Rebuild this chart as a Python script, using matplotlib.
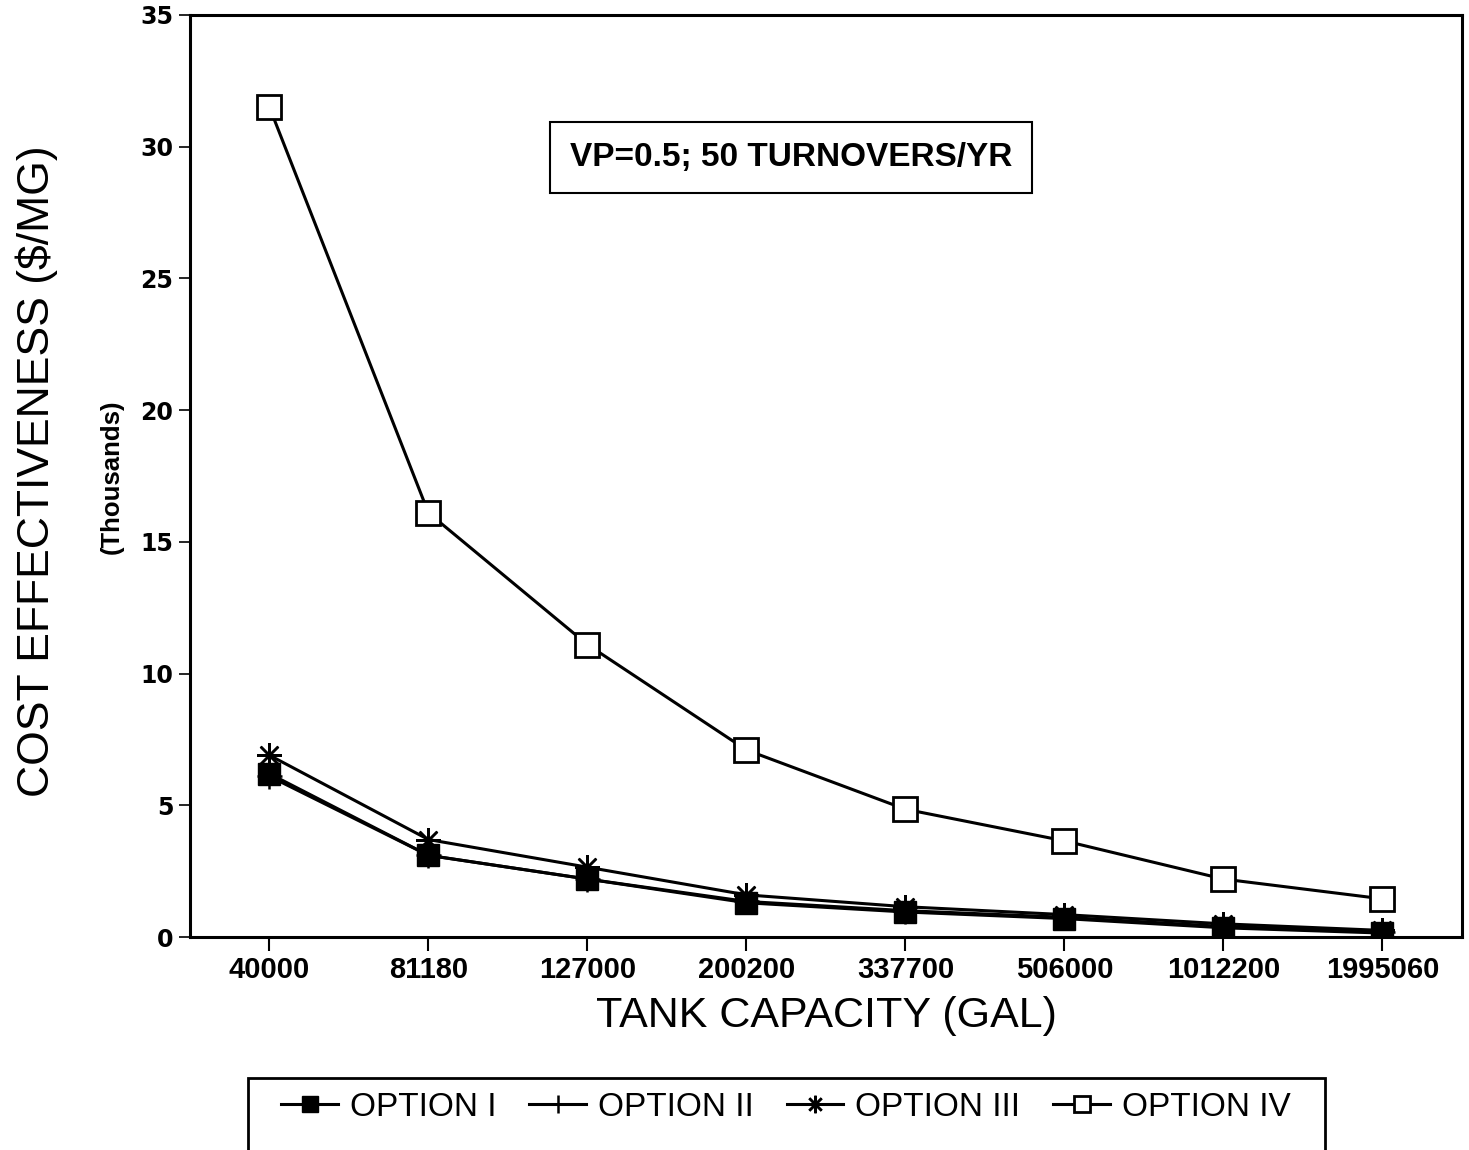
import matplotlib
matplotlib.use("Agg")
import matplotlib.pyplot as plt
from matplotlib import font_manager
from matplotlib.patches import Rectangle

names = {f.name for f in font_manager.fontManager.ttflist}
narrow = 'Liberation Sans Narrow' if 'Liberation Sans Narrow' in names else 'Liberation Sans'
plt.rcParams['font.family'] = [narrow, 'DejaVu Sans']

capacity = ['40000', '81180', '127000', '200200', '337700', '506000', '1012200', '1995060']
option_1 = [6.2, 3.1, 2.2, 1.3, 0.95, 0.7, 0.35, 0.15]
option_2 = [6.1, 3.1, 2.2, 1.35, 1.0, 0.75, 0.4, 0.2]
option_3 = [6.9, 3.7, 2.65, 1.6, 1.15, 0.85, 0.5, 0.25]
option_4 = [31.5, 16.1, 11.1, 7.1, 4.85, 3.65, 2.2, 1.45]

fig = plt.figure(figsize=(14.69, 11.5), dpi=100)
ax = fig.add_axes([0.1293, 0.1852, 0.8659, 0.8018])

x = list(range(len(capacity)))
lw = 2.2
h4, = ax.plot(x, option_4, color='black', lw=lw, marker='s', ms=17, mfc='white', mew=2, label='OPTION IV', zorder=3)
h3, = ax.plot(x, option_3, color='black', lw=lw, marker=(8, 2, 0), ms=18, mew=1.8, label='OPTION III', zorder=4)
h2, = ax.plot(x, option_2, color='black', lw=lw, marker='+', ms=18, mew=1.8, label='OPTION II', zorder=5)
h1, = ax.plot(x, option_1, color='black', lw=lw, marker='s', ms=16, mfc='black', label='OPTION I', zorder=6)

ax.set_xlim(-0.5, 7.5)
ax.set_ylim(0, 35)
ax.set_xticks(x)
ax.set_xticklabels(capacity, fontsize=21, fontweight='bold')
ax.set_yticks(range(0, 36, 5))
ax.set_yticklabels([str(v) for v in range(0, 36, 5)], fontsize=17, fontweight='bold', family='DejaVu Sans')
ax.tick_params(axis='x', direction='out', length=10, width=1.5, pad=4)
ax.tick_params(axis='y', direction='out', length=8, width=1.2, pad=4)
for s in ax.spines.values():
    s.set_linewidth(2.2)

ax.set_xlabel('TANK CAPACITY (GAL)', fontsize=31, labelpad=8)
fig.text(0.025, 0.59, r'COST EFFECTIVENESS (\$/MG)', rotation=90, fontsize=32,
         family='Liberation Sans', ha='center', va='center')
fig.text(0.076, 0.585, '(Thousands)', rotation=90, fontsize=18.5, fontweight='bold',
         ha='center', va='center')

ax.text(3.28, 29.6, 'VP=0.5; 50 TURNOVERS/YR', fontsize=24, fontweight='bold',
        ha='center', va='center',
        bbox=dict(boxstyle='square,pad=0.6', fc='white', ec='black', lw=1.5))

# legend frame runs past the bottom edge
fig.patches.append(Rectangle((248 / 1469, -0.02), 1077 / 1469, (1150 - 1078) / 1150 + 0.02,
                             transform=fig.transFigure, fill=False, ec='black', lw=2))
fig.legend(handles=[h1, h2, h3, h4], loc='center', bbox_to_anchor=(0.535, 0.037),
           ncol=4, frameon=False, fontsize=24, handlelength=1.7, markerscale=0.7,
           columnspacing=1.0, handletextpad=0.35)

fig.savefig('out.png', dpi=100)
